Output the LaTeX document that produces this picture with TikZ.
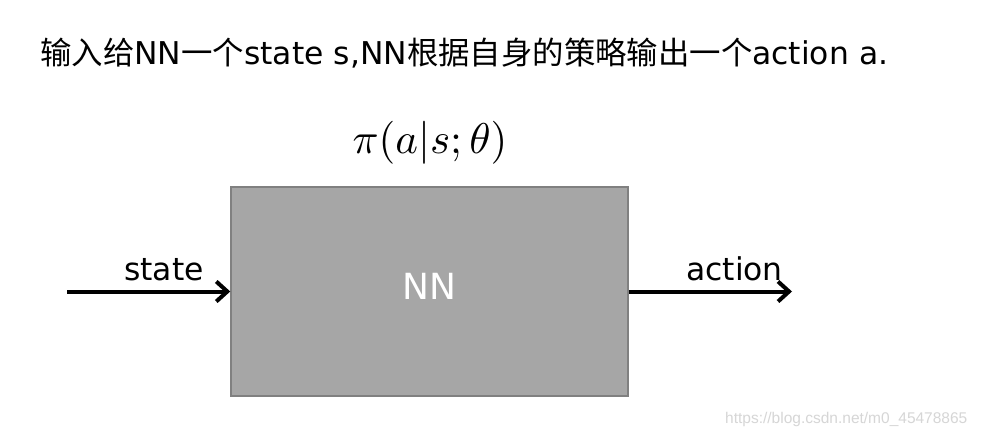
\documentclass[tikz,border=0pt]{standalone}
\usepackage{graphicx}
\usepackage{fontspec}
\setmainfont{DejaVu Sans}
\newfontfamily\cjk{Noto Sans CJK SC}
\newfontfamily\wmfont{Liberation Sans}
\usetikzlibrary{arrows.meta}
\definecolor{boxfill}{HTML}{A6A6A6}
\definecolor{boxline}{HTML}{808080}
\definecolor{wmgray}{HTML}{D6D6D6}
\tikzset{
  txt/.style={inner sep=0pt, anchor=base west, font=\fontsize{31.4}{37}\selectfont},
  nnbox/.style={draw=boxline, line width=1.5pt, fill=boxfill, minimum width=397pt, minimum height=209pt,
    inner sep=0pt, text=white, text depth=10pt, font=\fontsize{36}{42}\selectfont},
  arr/.style={line width=4pt, -{Straight Barb[length=11pt,width=20pt]}},
}
\begin{document}
\begin{tikzpicture}[x=1pt,y=-1pt]
\useasboundingbox[fill=white] (0,0) rectangle (981,438);
\node[txt] (title) at (40,65) {{\cjk 输入给}NN{\cjk 一个}state s,NN{\cjk 根据自身的策略输出一个}action a.};
\node[inner sep=0pt, anchor=base] (pi) at (430,154) {\scalebox{4.3}{$\pi(a|s;\theta)$}};
\node[nnbox] (nn) at (429.5,291.5) {NN};
\coordinate (sin) at (67,291.5);
\coordinate (aout) at (792,291.5);
\draw[arr] (sin) -- (nn.west);
\draw[arr] (nn.east) -- (aout);
\node[txt] (state) at (124,280) {state};
\node[txt] (action) at (686,280) {action};
\node[inner sep=0pt, anchor=base west, text=wmgray, font=\wmfont\fontsize{15.5}{18}\selectfont] (wm) at (725,423) {https://blog.csdn.net/m0\_45478865};
\end{tikzpicture}
\end{document}
